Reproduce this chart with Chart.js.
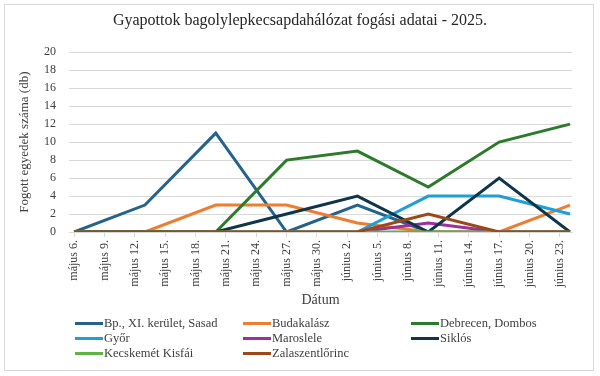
<!DOCTYPE html>
<html>
<head>
<meta charset="utf-8">
<script src="https://cdn.jsdelivr.net/npm/chart.js@4/dist/chart.umd.min.js"></script>
<style>
  html, body { margin: 0; padding: 0; background: #fff; }
  #wrap { position: relative; width: 600px; height: 376px; }
  #frame { position: absolute; left: 4px; top: 4px; width: 590px; height: 367px; border: 1px solid #d9d9d9; box-sizing: border-box; pointer-events: none; }
  #legend { position: absolute; left: 75px; top: 316px; font-family: "Liberation Serif", serif; font-size: 12.5px; color: #404040; }
  .row { display: flex; height: 15px; align-items: center; }
  .item { display: flex; align-items: center; width: 168px; white-space: nowrap; }
  .sw { display: inline-block; width: 28px; height: 3px; margin-right: 1px; }
</style>
</head>
<body>
<div id="wrap">
  <canvas id="c" width="600" height="376"></canvas>
  <div id="frame"></div>
  <div id="legend"></div>
</div>
<script>
// Data (weekly trap readings, days counted from május 6.)
const pointDays = [0, 7, 14, 21, 28, 35, 42, 49];
const tickDays = [0, 3, 6, 9, 12, 15, 18, 21, 24, 27, 30, 33, 36, 39, 42, 45, 48];
const tickLabels = ['május 6.', 'május 9.', 'május 12.', 'május 15.', 'május 18.', 'május 21.', 'május 24.', 'május 27.', 'május 30.', 'június 2.', 'június 5.', 'június 8.', 'június 11.', 'június 14.', 'június 17.', 'június 20.', 'június 23.'];

const seriesNames = ['Bp., XI. kerület, Sasad', 'Budakalász', 'Debrecen, Dombos', 'Győr', 'Maroslele', 'Siklós', 'Kecskemét Kisfái', 'Zalaszentlőrinc'];
const bpSasad        = [0, 3, 11, 0, 3, 0, 0, 0];
const budakalasz     = [0, 0, 3, 3, 1, 0, 0, 3];
const debrecen       = [0, 0, 0, 8, 9, 5, 10, 12];
const gyor           = [0, 0, 0, 0, 0, 4, 4, 2];
const maroslele      = [0, 0, 0, 0, 0, 1, 0, 0];
const siklos         = [0, 0, 0, 2, 4, 0, 6, 0];
const kecskemet      = [0, 0, 0, 0, 0, 0, 0, 0];
const zalaszentlorinc = [0, 0, 0, 0, 0, 2, 0, 0];
const seriesColors = ['#23638c', '#ed7d31', '#2b7b2b', '#1e9fd8', '#9b309e', '#0f3549', '#5fb246', '#9c4818'];

const allSeries = [bpSasad, budakalasz, debrecen, gyor, maroslele, siklos, kecskemet, zalaszentlorinc];

const datasets = allSeries.map((vals, i) => ({
  label: seriesNames[i],
  data: vals.map((v, j) => ({ x: pointDays[j], y: v })),
  borderColor: seriesColors[i],
  backgroundColor: seriesColors[i],
  borderWidth: 3,
  pointRadius: 0,
  tension: 0,
  fill: false,
  order: allSeries.length - i
}));

// HTML legend in 3 columns
const legend = document.getElementById('legend');
for (let r = 0; r < Math.ceil(seriesNames.length / 3); r++) {
  const row = document.createElement('div');
  row.className = 'row';
  for (let c = 0; c < 3; c++) {
    const i = r * 3 + c;
    if (i >= seriesNames.length) break;
    const it = document.createElement('div');
    it.className = 'item';
    const sw = document.createElement('span');
    sw.className = 'sw';
    sw.style.background = seriesColors[i];
    it.appendChild(sw);
    it.appendChild(document.createTextNode(seriesNames[i]));
    row.appendChild(it);
  }
  legend.appendChild(row);
}

const serif = '"Liberation Serif", "Times New Roman", serif';

new Chart(document.getElementById('c'), {
  type: 'line',
  data: { datasets },
  options: {
    responsive: false,
    animation: false,
    layout: { padding: { left: 28, right: 28, top: 0, bottom: 66 } },
    plugins: {
      legend: { display: false },
      tooltip: { enabled: false },
      title: {
        display: true,
        text: 'Gyapottok bagolylepkecsapdahálózat fogási adatai - 2025.',
        color: '#262626',
        font: { family: serif, size: 16, weight: 'normal' },
        padding: { top: 11, bottom: 22 }
      }
    },
    scales: {
      x: {
        type: 'linear',
        min: -0.5,
        max: 49.2,
        afterBuildTicks: (scale) => { scale.ticks = tickDays.map(v => ({ value: v })); },
        afterFit: (scale) => { scale.height = 78; },
        ticks: {
          autoSkip: false,
          minRotation: 90,
          maxRotation: 90,
          padding: 3,
          color: '#404040',
          font: { family: serif, size: 12 },
          callback: (value, index) => tickLabels[index]
        },
        grid: { drawOnChartArea: false, drawTicks: true, tickLength: 5, color: '#d9d9d9' },
        border: { display: true, color: '#d9d9d9', width: 1 },
        title: {
          display: true,
          text: 'Dátum',
          color: '#404040',
          font: { family: serif, size: 14 },
          padding: { top: 0, bottom: 1 }
        }
      },
      y: {
        min: 0,
        max: 20,
        afterFit: (scale) => { scale.width = 41; },
        ticks: {
          stepSize: 2,
          padding: 13,
          color: '#404040',
          font: { family: serif, size: 12 }
        },
        grid: { color: '#d9d9d9', drawTicks: false },
        border: { display: false },
        title: {
          display: true,
          text: 'Fogott egyedek száma (db)',
          color: '#404040',
          font: { family: serif, size: 13 },
          padding: { top: -11, bottom: 0 }
        }
      }
    }
  }
});
</script>
</body>
</html>
